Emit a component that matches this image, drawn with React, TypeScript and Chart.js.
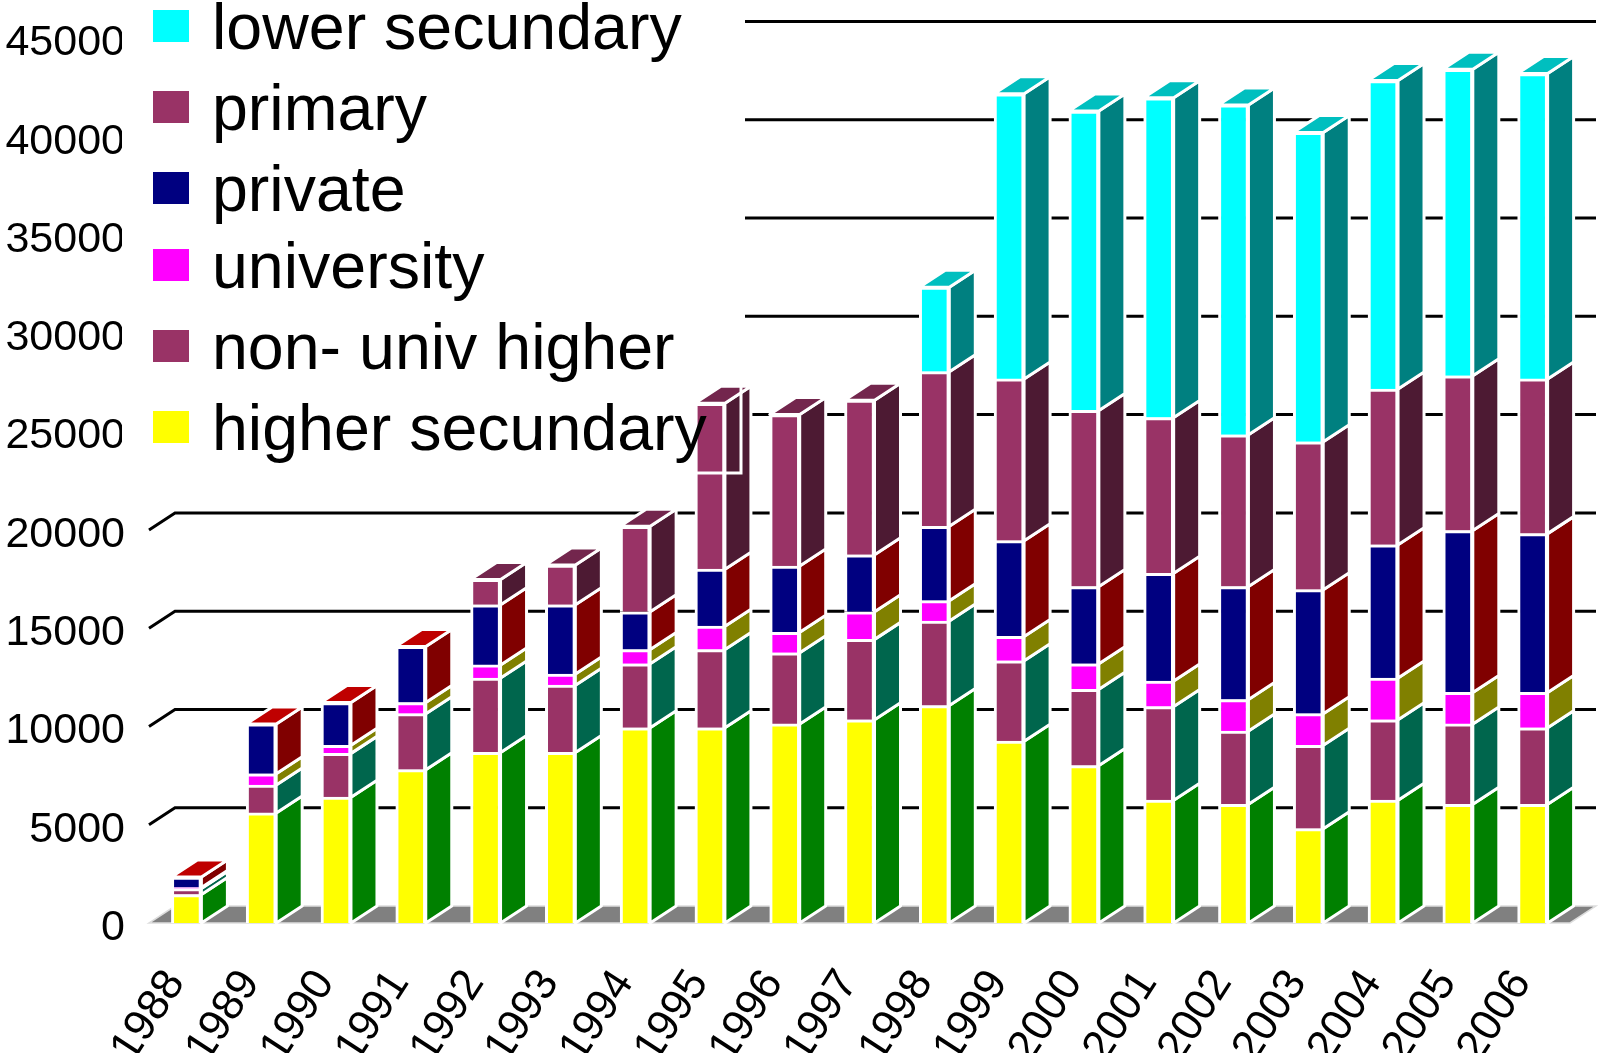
import React, { useEffect, useRef } from "react";
import { Chart, registerables } from "chart.js";

Chart.register(...registerables);

const years = ["1988","1989","1990","1991","1992","1993","1994","1995","1996","1997","1998","1999","2000","2001","2002","2003","2004","2005","2006"];
const higherSecundary = [1450,5600,6400,7800,8680,8680,9930,9930,10130,10340,11060,9250,8010,6250,6040,4800,6250,6040,6040];
const nonUnivHigher = [300,1420,2230,2850,3780,3420,3260,3980,3620,4090,4300,4090,3880,4760,3730,4240,4090,4090,3890];
const university = [50,570,410,570,670,570,720,1190,1040,1400,1040,1240,1300,1300,1600,1610,2120,1600,1800];
const privateSchools = [540,2540,2180,2850,3060,3520,1920,2900,3370,2900,3780,4870,3930,5480,5750,6310,6780,8240,8080];
const primary = [0,0,0,0,1290,2020,4350,8440,7710,7870,7870,8230,8960,7930,7720,7520,7930,7870,7870];
const lowerSecundary = [0,0,0,0,0,0,0,0,0,0,4300,14510,15230,16260,16780,15740,15690,15590,15540];

const labels = ["higher secundary","non- univ higher","university","private","primary","lower secundary"];
const seriesValues = [higherSecundary,nonUnivHigher,university,privateSchools,primary,lowerSecundary];
const frontColors = ["#FFFF00","#993366","#FF00FF","#000080","#993366","#00FFFF"];
const sideColors = ["#008000","#00664D","#808000","#800000","#4D1A33","#008080"];
const topColors = ["#00BF00","#00806B","#BFBF00","#BF0000","#73264D","#00BFBF"];
const legendTops = [411,330,249,172,91,10];

const DX = 26;
const DY = 17;
const FONT = "Liberation Sans, Arial, sans-serif";

const depthPlugin = {
  id: "depth",
  beforeDatasetsDraw(chart: any) {
    const { ctx, chartArea: a, scales } = chart;
    const y = scales.y;
    ctx.save();
    // floor
    const y0 = y.getPixelForValue(0);
    ctx.fillStyle = "#808080";
    ctx.strokeStyle = "#DDDDDD";
    ctx.lineWidth = 1.5;
    ctx.beginPath();
    ctx.moveTo(a.left, y0);
    ctx.lineTo(a.right, y0);
    ctx.lineTo(a.right + DX, y0 - DY);
    ctx.lineTo(a.left + DX, y0 - DY);
    ctx.closePath();
    ctx.fill();
    ctx.stroke();
    // grid on the back wall
    ctx.strokeStyle = "#000000";
    ctx.lineWidth = 3;
    y.ticks.forEach((t: any) => {
      if (t.value === 0) return;
      const p = y.getPixelForValue(t.value);
      ctx.beginPath();
      ctx.moveTo(a.left, p);
      ctx.lineTo(a.left + DX, p - DY);
      ctx.lineTo(a.right + DX, p - DY);
      ctx.stroke();
    });
    // legend background
    ctx.fillStyle = "#FFFFFF";
    ctx.fillRect(122, 0, 623, 473);
    // side and top faces
    ctx.strokeStyle = "#FFFFFF";
    ctx.lineWidth = 3;
    ctx.lineJoin = "round";
    years.forEach((_, i) => {
      let last = -1;
      seriesValues.forEach((vals, d) => {
        if (vals[i] > 0) last = d;
      });
      seriesValues.forEach((vals, d) => {
        if (vals[i] <= 0) return;
        const bar = chart.getDatasetMeta(d).data[i];
        const right = bar.x + bar.width / 2;
        const left = bar.x - bar.width / 2;
        ctx.fillStyle = sideColors[d];
        ctx.beginPath();
        ctx.moveTo(right, bar.base);
        ctx.lineTo(right, bar.y);
        ctx.lineTo(right + DX, bar.y - DY);
        ctx.lineTo(right + DX, bar.base - DY);
        ctx.closePath();
        ctx.fill();
        ctx.stroke();
        if (d === last) {
          ctx.fillStyle = topColors[d];
          ctx.beginPath();
          ctx.moveTo(left, bar.y);
          ctx.lineTo(right, bar.y);
          ctx.lineTo(right + DX, bar.y - DY);
          ctx.lineTo(left + DX, bar.y - DY);
          ctx.closePath();
          ctx.fill();
          ctx.stroke();
        }
      });
    });
    ctx.restore();
  },
  afterDatasetsDraw(chart: any) {
    const { ctx } = chart;
    ctx.save();
    // legend frame
    ctx.strokeStyle = "#FFFFFF";
    ctx.lineWidth = 3;
    ctx.strokeRect(-10, -10, 751, 483);
    // legend entries
    ctx.font = `64.5px ${FONT}`;
    ctx.textBaseline = "alphabetic";
    ctx.textAlign = "left";
    labels.forEach((label, d) => {
      ctx.fillStyle = frontColors[d];
      ctx.fillRect(153, legendTops[d], 36, 32);
      ctx.fillStyle = "#000000";
      ctx.fillText(label, 212, legendTops[d] + 39);
    });
    ctx.restore();
  },
};

export default function App() {
  const ref = useRef<HTMLCanvasElement>(null);
  useEffect(() => {
    const chart = new Chart(ref.current as HTMLCanvasElement, {
      type: "bar",
      data: {
        labels: years,
        datasets: labels.map((label, d) => ({
          label,
          data: seriesValues[d],
          backgroundColor: frontColors[d],
          borderColor: "#FFFFFF",
          borderWidth: 3,
          barThickness: 30,
        })),
      },
      options: {
        animation: false,
        responsive: false,
        layout: { padding: { top: 38.5, right: 28, left: 0, bottom: 0 } },
        plugins: { legend: { display: false }, tooltip: { enabled: false }, title: { display: false } },
        scales: {
          x: {
            stacked: true,
            grid: { display: false },
            border: { display: false },
            afterFit(s: any) { s.height = 130; s.paddingLeft = 0; s.paddingRight = 0; },
            ticks: {
              autoSkip: false,
              minRotation: 57,
              maxRotation: 57,
              padding: 30,
              labelOffset: -11,
              color: "#000000",
              font: { family: FONT, size: 44 },
            },
          },
          y: {
            stacked: true,
            min: 0,
            max: 45000,
            afterFit(s: any) { s.width = 149; s.paddingTop = 0; s.paddingBottom = 0; },
            grid: { display: false, drawTicks: false },
            border: { display: false },
            ticks: {
              stepSize: 5000,
              padding: 24,
              labelOffset: 5,
              color: "#000000",
              font: { family: FONT, size: 43 },
              callback: (v: any) => String(v),
            },
          },
        },
      },
      plugins: [depthPlugin],
    } as any);
    return () => chart.destroy();
  }, []);
  return (
    <canvas
      ref={ref}
      width={1598}
      height={1053}
      style={{ position: "absolute", left: 0, top: 0, display: "block" }}
    />
  );
}
